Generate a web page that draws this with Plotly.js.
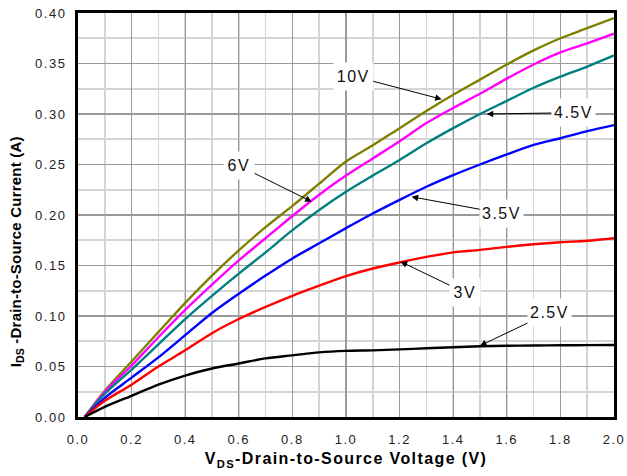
<!DOCTYPE html>
<html>
<head>
<meta charset="utf-8">
<script src="https://cdn.plot.ly/plotly-3.0.1.min.js"></script>
<style>
html,body{margin:0;padding:0;background:#fff;}
#chart{width:627px;height:476px;}
#chart .xtick text, #chart .ytick text { letter-spacing: 1.5px; }
#chart .g-xtitle text { letter-spacing: 1.4px; }
#chart .annotation-text { letter-spacing: 1.5px; }
#chart .annotation[data-index="6"] .annotation-text { letter-spacing: 0.2px; }
</style>
</head>
<body>
<div id="chart"></div>
<script>
// Drain-to-source voltage (V)
const vds = [0.025, 0.1, 0.2, 0.3, 0.4, 0.5, 0.6, 0.7, 0.8, 0.9, 1.0, 1.1, 1.2, 1.3, 1.4, 1.5, 1.6, 1.7, 1.8, 1.9, 2.0];
// Drain current (A) for each gate voltage
const id_10V  = [0, 0.026, 0.055, 0.084, 0.113, 0.140, 0.165, 0.188, 0.209, 0.231, 0.253, 0.269, 0.286, 0.303, 0.319, 0.334, 0.349, 0.363, 0.375, 0.385, 0.395];
const id_6V   = [0, 0.025, 0.051, 0.079, 0.106, 0.131, 0.155, 0.177, 0.199, 0.220, 0.239, 0.256, 0.273, 0.291, 0.306, 0.320, 0.335, 0.349, 0.361, 0.370, 0.3795];
const id_4p5V = [0, 0.023, 0.047, 0.072, 0.097, 0.120, 0.142, 0.163, 0.185, 0.205, 0.223, 0.239, 0.2545, 0.271, 0.286, 0.300, 0.313, 0.326, 0.337, 0.347, 0.358];
const id_3p5V = [0, 0.019, 0.039, 0.059, 0.081, 0.103, 0.122, 0.140, 0.157, 0.172, 0.187, 0.2015, 0.215, 0.228, 0.2395, 0.250, 0.260, 0.2695, 0.276, 0.283, 0.289];
const id_3V   = [0, 0.016, 0.032, 0.050, 0.066, 0.083, 0.097, 0.109, 0.120, 0.130, 0.1395, 0.147, 0.153, 0.1585, 0.163, 0.1655, 0.1685, 0.171, 0.173, 0.1745, 0.177];
const id_2p5V = [0, 0.010, 0.021, 0.032, 0.041, 0.048, 0.053, 0.058, 0.061, 0.064, 0.0655, 0.066, 0.067, 0.068, 0.069, 0.070, 0.0705, 0.0708, 0.071, 0.0712, 0.0713];

const seriesNames = ["10V", "6V", "4.5V", "3.5V", "3V", "2.5V"];
const seriesData = [id_10V, id_6V, id_4p5V, id_3p5V, id_3V, id_2p5V];
const seriesColors = ["#808000", "#ff00ff", "#008080", "#0000ff", "#ff0000", "#000000"];

// Label annotations: text, arrow tip (x,y), label centre (ax,ay) in data units
const labelText = ["10V", "6V", "4.5V", "3.5V", "3V", "2.5V"];
const labelTipX = [1.357, 0.872, 1.525, 1.245, 1.204, 1.50];
const labelTipY = [0.3146, 0.2132, 0.300, 0.218, 0.1538, 0.0706];
const labelAtX  = [1.027, 0.601, 1.848, 1.581, 1.444, 1.759];
const labelAtY  = [0.3376, 0.2488, 0.3013, 0.2017, 0.1231, 0.1033];

const xTicks = [0.0, 0.2, 0.4, 0.6, 0.8, 1.0, 1.2, 1.4, 1.6, 1.8, 2.0];
const yTicks = [0.00, 0.05, 0.10, 0.15, 0.20, 0.25, 0.30, 0.35, 0.40];

const traces = seriesNames.map((n, i) => ({
  type: "scatter", mode: "lines", name: n,
  x: vds, y: seriesData[i],
  line: {color: seriesColors[i], width: 2.4, shape: "spline", smoothing: 0.9},
  hoverinfo: "skip"
}));

const font = "'Liberation Sans', Arial, sans-serif";

const annotations = labelText.map((t, i) => ({
  text: t, x: labelTipX[i], y: labelTipY[i], xref: "x", yref: "y",
  ax: labelAtX[i], ay: labelAtY[i], axref: "x", ayref: "y",
  showarrow: true, arrowhead: 2, arrowsize: 1.3, arrowwidth: 1, arrowcolor: "#000",
  bgcolor: "#ffffff", borderpad: 5, font: {family: font, size: 16, color: "#111"}
}));
// y-axis title, drawn as an annotation so it can sit where the reference has it
annotations.push({
  text: "<b>I<sub>DS</sub> -Drain-to-Source Current (A)</b>",
  xref: "paper", yref: "paper", x: 0, y: 0.408, xanchor: "center", yanchor: "middle",
  xshift: -62, textangle: -90, showarrow: false,
  font: {family: font, size: 15, color: "#000"}
});

const layout = {
  width: 627, height: 476,
  margin: {l: 78, r: 13, t: 13, b: 59},
  paper_bgcolor: "#fff", plot_bgcolor: "#fff",
  showlegend: false,
  font: {family: font, color: "#000"},
  xaxis: {
    range: [0, 2.0], tickvals: xTicks, ticktext: xTicks.map(v => v.toFixed(1)),
    showgrid: true, gridcolor: "#9a9a9a", gridwidth: 1.2,
    minor: {dtick: 0.1, showgrid: true, gridcolor: "#d4d4d4", gridwidth: 1.6},
    showline: true, linecolor: "#000", linewidth: 3, mirror: true,
    zeroline: false, ticks: "", ticklabelstandoff: 8,
    tickfont: {family: font, size: 13, color: "#222"},
    title: {text: "<b>V<sub>DS</sub>-Drain-to-Source Voltage (V)</b>", font: {family: font, size: 16, color: "#000"}, standoff: 8}
  },
  yaxis: {
    range: [0, 0.40], tickvals: yTicks, ticktext: yTicks.map(v => v.toFixed(2)),
    showgrid: true, gridcolor: "#9a9a9a", gridwidth: 1.2,
    minor: {dtick: 0.025, showgrid: true, gridcolor: "#d4d4d4", gridwidth: 1.6},
    showline: true, linecolor: "#000", linewidth: 3, mirror: true,
    zeroline: false, ticks: "", ticklabelstandoff: 6,
    tickfont: {family: font, size: 13, color: "#222"}
  },
  annotations: annotations
};

Plotly.newPlot("chart", traces, layout, {staticPlot: true, displayModeBar: false});
</script>
</body>
</html>
